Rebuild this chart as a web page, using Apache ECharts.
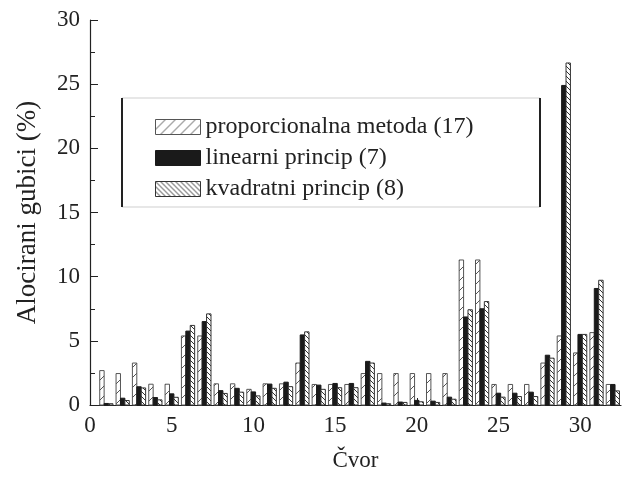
<!DOCTYPE html>
<html>
<head>
<meta charset="utf-8">
<script src="https://cdn.jsdelivr.net/npm/echarts@6/dist/echarts.min.js"></script>
<style>
html,body{margin:0;padding:0;background:#fff;}
#chart{width:622px;height:477px;}
</style>
</head>
<body>
<div id="chart"></div>
<script>
// ---- data ----
var nodes = [1,2,3,4,5,6,7,8,9,10,11,12,13,14,15,16,17,18,19,20,21,22,23,24,25,26,27,28,29,30,31,32];
var proporcionalna = [2.68,2.45,3.27,1.62,1.62,5.38,5.38,1.65,1.65,1.22,1.65,1.65,3.27,1.6,1.6,1.6,2.45,2.45,2.45,2.45,2.45,2.45,11.3,11.3,1.6,1.6,1.6,3.27,5.38,4.06,5.64,1.6];
var linearni = [0.12,0.53,1.42,0.58,0.87,5.76,6.5,1.12,1.3,1.02,1.63,1.78,5.46,1.55,1.68,1.68,3.4,0.15,0.23,0.36,0.3,0.61,6.86,7.5,0.92,0.92,1.0,3.88,24.9,5.5,9.08,1.6];
var kvadratni = [0.1,0.35,1.33,0.4,0.6,6.2,7.1,0.9,1.0,0.71,1.3,1.43,5.7,1.22,1.35,1.35,3.27,0.1,0.2,0.25,0.2,0.45,7.42,8.06,0.61,0.66,0.66,3.65,26.65,5.5,9.72,1.1];
var seriesNames = ['proporcionalna metoda (17)','linearni princip (7)','kvadratni princip (8)'];
var xTicks = [0,5,10,15,20,25,30];
var yTicks = [0,5,10,15,20,25,30];

// ---- hatch patterns ----
function hatch(size, dir, color, lw) {
  var c = document.createElement('canvas');
  c.width = size; c.height = size;
  var g = c.getContext('2d');
  g.fillStyle = '#fff'; g.fillRect(0,0,size,size);
  g.strokeStyle = color; g.lineWidth = lw;
  g.beginPath();
  if (dir > 0) {
    g.moveTo(-1, size+1); g.lineTo(size+1, -1);
    g.moveTo(-1, 1); g.lineTo(1, -1);
    g.moveTo(size-1, size+1); g.lineTo(size+1, size-1);
  } else {
    g.moveTo(-1, -1); g.lineTo(size+1, size+1);
    g.moveTo(size-1, -1); g.lineTo(size+1, 1);
    g.moveTo(-1, size-1); g.lineTo(1, size+1);
  }
  g.stroke();
  return {image: c, repeat: 'repeat'};
}
var patProp = hatch(10, 1, '#555', 1);
var patKv = hatch(5, -1, '#333', 1);

var BW = 0.27;
var offsets = [-BW, 0, BW];
var fills = [patProp, '#1a1a1a', patKv];
var strokes = ['#555', '#1a1a1a', '#333'];

function makeRender(k) {
  return function (params, api) {
    var x = api.value(0), v = api.value(1);
    var a = api.coord([x + offsets[k] - BW/2, 0]);
    var b = api.coord([x + offsets[k] + BW/2, v]);
    return {
      type: 'rect',
      shape: {x: a[0], y: b[1], width: b[0] - a[0], height: a[1] - b[1]},
      style: {fill: fills[k], stroke: strokes[k], lineWidth: 1}
    };
  };
}

var vals = [proporcionalna, linearni, kvadratni];
var series = vals.map(function (arr, k) {
  return {
    name: seriesNames[k],
    type: 'custom',
    renderItem: makeRender(k),
    itemStyle: {color: fills[k], borderColor: strokes[k], borderWidth: 1},
    encode: {x: 0, y: 1},
    data: nodes.map(function (n, i) { return [n, arr[i]]; }),
    z: 2
  };
});

var FONT = 'Liberation Serif';
var chart = echarts.init(document.getElementById('chart'), null, {renderer: 'canvas'});
chart.setOption({
  animation: false,
  backgroundColor: '#fff',
  textStyle: {fontFamily: FONT, color: '#222'},
  grid: {left: 90, right: 1, top: 20, bottom: 65, containLabel: false},
  xAxis: {
    type: 'value', min: 0, max: 32.5, interval: 5,
    name: 'Čvor', nameLocation: 'middle', nameGap: 44,
    nameTextStyle: {fontFamily: FONT, fontSize: 23, color: '#222'},
    axisLine: {show: true, lineStyle: {color: '#222', width: 1.2}},
    axisTick: {show: true, inside: true, length: 7, lineStyle: {color: '#222'}},
    minorTick: {show: false},
    axisLabel: {fontFamily: FONT, fontSize: 23, color: '#222', margin: 9, showMaxLabel: false,
      formatter: function (v) { return xTicks.indexOf(v) >= 0 ? String(v) : ''; }},
    splitLine: {show: false}
  },
  yAxis: {
    type: 'value', min: 0, max: 30, interval: 5,
    name: 'Alocirani gubici (%)', nameLocation: 'middle', nameGap: 49,
    nameTextStyle: {fontFamily: FONT, fontSize: 27, color: '#222'},
    axisLine: {show: true, lineStyle: {color: '#222', width: 1.2}},
    axisTick: {show: true, inside: true, length: 8, lineStyle: {color: '#222'}},
    minorTick: {show: true, splitNumber: 2, length: 5, lineStyle: {color: '#222'}},
    axisLabel: {fontFamily: FONT, fontSize: 23, color: '#222', margin: 10,
      formatter: function (v) { return yTicks.indexOf(v) >= 0 ? String(v) : ''; }},
    splitLine: {show: false}
  },
  legend: {
    orient: 'vertical', left: 150, top: 110,
    icon: 'rect', itemWidth: 45, itemHeight: 15, itemGap: 7,
    textStyle: {fontFamily: FONT, fontSize: 24, color: '#222', lineHeight: 24},
    data: seriesNames.map(function (n, k) {
      return {name: n, icon: 'rect', itemStyle: {color: fills[k], borderColor: strokes[k], borderWidth: 1}};
    })
  },
  graphic: [
    {type: 'rect', shape: {x: 122, y: 98, width: 418, height: 109}, style: {fill: 'none', stroke: '#cfcfcf', lineWidth: 1}, z: 10},
    {type: 'line', shape: {x1: 122, y1: 98, x2: 122, y2: 207}, style: {stroke: '#222', lineWidth: 2}, z: 11},
    {type: 'line', shape: {x1: 540, y1: 98, x2: 540, y2: 207}, style: {stroke: '#222', lineWidth: 2}, z: 11}
  ],
  series: series
});
</script>
</body>
</html>
